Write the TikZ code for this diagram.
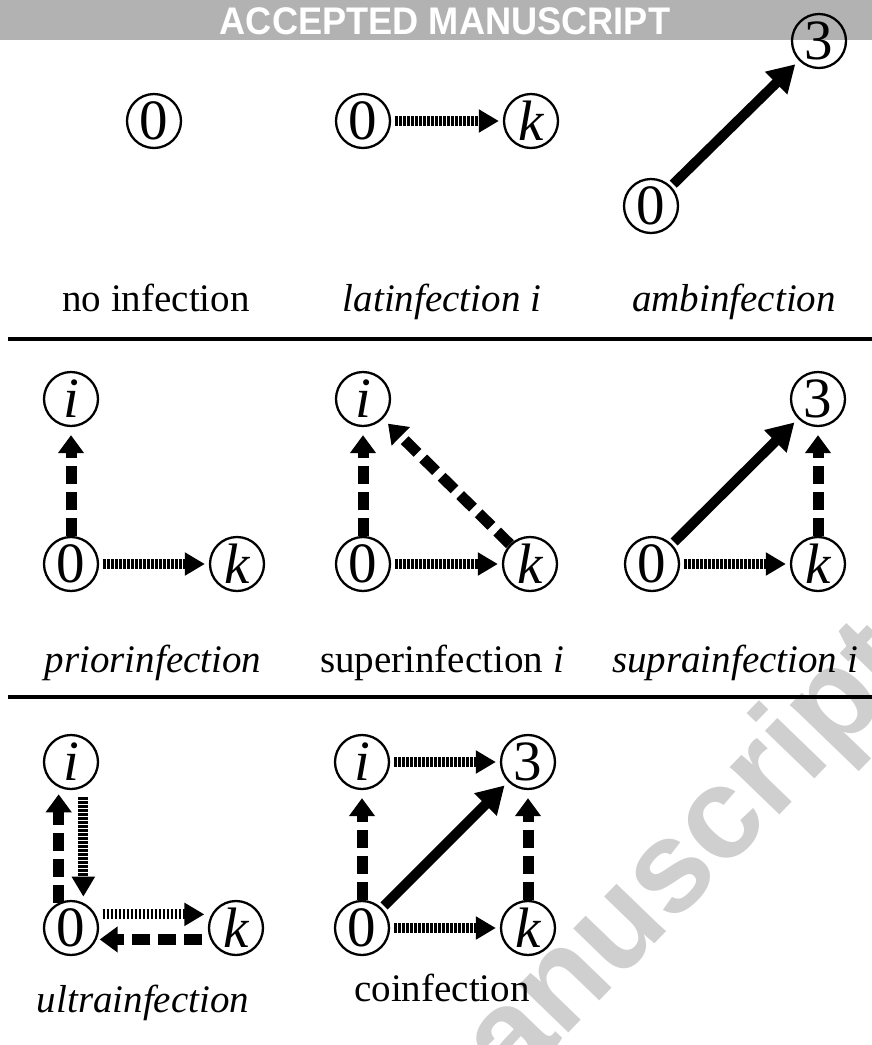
\documentclass[tikz,border=0pt]{standalone}
\usepackage{fontspec}
\setmainfont{Liberation Serif}
\newfontfamily\bannerfont{Liberation Sans}
\usetikzlibrary{arrows.meta}
\begin{document}
\begin{tikzpicture}[x=1pt,y=-1pt,
  st/.style={circle,draw,line width=2.3pt,minimum size=54pt,inner sep=0pt,font=\fontsize{57}{57}\selectfont},
  lab/.style={anchor=base,inner sep=0pt,font=\fontsize{39}{45}\selectfont},
  ilab/.style={lab,font=\fontsize{39}{45}\selectfont\itshape},
  stripe/.style={line width=10pt,dash pattern=on 2.5pt off 1.5pt,-{Triangle[length=20pt,width=22pt]},shorten >=4pt,shorten <=4pt},
  dsh/.style={line width=11pt,dash pattern=on 18pt off 8pt,-{Triangle[length=18pt,width=25pt]}},
  sol/.style={line width=10pt,-{Triangle[length=27pt,width=30pt]}},
  sepline/.style={line width=3.5pt}]
\useasboundingbox (0,0) rectangle (872,1045);
\begin{scope}
\clip (0,0) rectangle (872,1045);
\node[rotate=46, anchor=base west, inner sep=0pt, text=black!19, font=\bannerfont\bfseries\fontsize{130}{130}\selectfont] (wm) at (512,1092) {anuscript};
\end{scope}
\fill[black!30] (0,0) rectangle (872,40);
\node[text=white, inner sep=0pt, xscale=0.94, font=\bannerfont\bfseries\fontsize{38.5}{38.5}\selectfont, anchor=base] (ban) at (445,34) {ACCEPTED MANUSCRIPT};

% separators
\draw[sepline] (8,339) -- (872,339);
\draw[sepline] (8,697) -- (872,697);

% row 1
\node[st] (a0) at (154,121) {0};
\node[st] (b0) at (363,121) {0};
\node[st] (bk) at (531,121) {\itshape k};
\node[st] (c3) at (819,41) {3};
\node[st] (c0) at (651,206) {0};
\draw[stripe] (b0) -- (bk);
\draw[sol,shorten <=3pt,shorten >=5pt] (c0) -- (c3);
\node[lab] (l1) at (156,311) {no infection};
\node[ilab] (l2) at (442,311) {latinfection i};
\node[ilab] (l3) at (734,311) {ambinfection};

% row 2
\node[st] (di) at (71,399) {\itshape i};
\node[st] (d0) at (71,564) {0};
\node[st] (dk) at (237,564) {\itshape k};
\draw[stripe] (d0) -- (dk);
\draw[dsh,shorten >=8pt] (d0) -- (di);

\node[st] (ei) at (363,399) {\itshape i};
\node[st] (e0) at (363,564) {0};
\node[st] (ek) at (530,564) {\itshape k};
\draw[stripe] (e0) -- (ek);
\draw[dsh,shorten >=8pt] (e0) -- (ei);
\draw[dsh,shorten >=7pt] (ek) -- (ei);

\node[st] (f3) at (818,399) {3};
\node[st] (f0) at (652,564) {0};
\node[st] (fk) at (818,564) {\itshape k};
\draw[stripe] (f0) -- (fk);
\draw[dsh,shorten >=8pt] (fk) -- (f3);
\draw[sol,shorten <=3pt,shorten >=5pt] (f0) -- (f3);

\node[ilab] (l4) at (153,672) {priorinfection};
\node[lab] (l5) at (442,672) {superinfection \textit{i}};
\node[ilab] (l6) at (735,672) {suprainfection i};

% row 3
\node[st] (gi) at (71,762) {\itshape i};
\node[st] (g0) at (71,928) {0};
\node[st] (gk) at (236,928) {\itshape k};
\draw[dsh,shorten >=7pt] (g0.116) -- (gi.244);
\draw[stripe,shorten <=10pt,shorten >=6pt] (gi.296) -- (g0.64);
\draw[stripe,shorten <=7pt,shorten >=7pt] (g0.29) -- (gk.151);
\draw[dsh,shorten <=8pt,shorten >=3pt] (gk.204) -- (g0.336);

\node[st] (hi) at (362,762) {\itshape i};
\node[st] (h3) at (528,762) {3};
\node[st] (h0) at (362,928) {0};
\node[st] (hk) at (528,928) {\itshape k};
\draw[stripe] (hi) -- (h3);
\draw[stripe] (h0) -- (hk);
\draw[dsh,shorten >=8pt] (h0) -- (hi);
\draw[dsh,shorten >=8pt] (hk) -- (h3);
\draw[sol,shorten <=3pt,shorten >=5pt] (h0) -- (h3);

\node[ilab] (l7) at (143,1012) {ultrainfection};
\node[lab] (l8) at (442,1001) {coinfection};
\end{tikzpicture}
\end{document}
